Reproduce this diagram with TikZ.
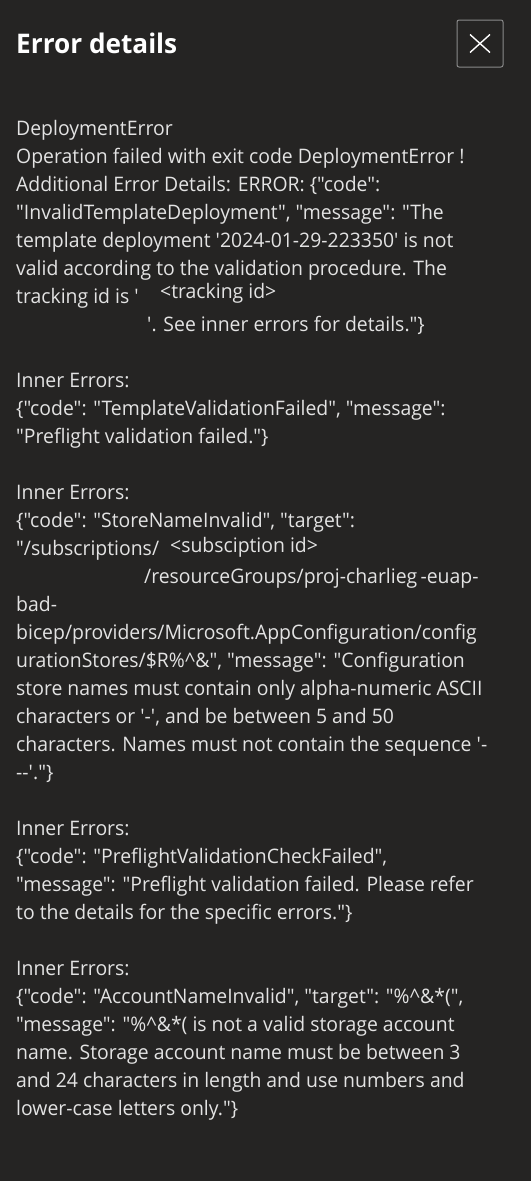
\documentclass[tikz,border=0pt]{standalone}
\usepackage{fontspec}
\setmainfont{Open Sans}[Ligatures=TeXOff,FakeStretch=0.97]
\definecolor{bg}{HTML}{252423}
\definecolor{txt}{HTML}{E3E3E3}
\definecolor{btn}{HTML}{8A8A8A}
\newcommand{\q}{\textquotesingle}
\begin{document}
\begin{tikzpicture}[x=1pt,y=-1pt,
  ln/.style={anchor=base west,inner sep=0pt,text=txt,font=\fontsize{20}{24}\selectfont},
  ttl/.style={anchor=base west,inner sep=0pt,text=white,font=\bfseries\fontsize{27}{32}\selectfont}]
\fill[bg] (0,0) rectangle (531,1181);
\useasboundingbox (0,0) rectangle (531,1181);
\node[ttl] (title) at (16,53) {Error details};
\node[draw=btn,line width=1pt,rounded corners=2pt,minimum width=46pt,minimum height=47pt,inner sep=0pt] (close) at (480,43.5) {};
\draw[white,line width=1.4pt] ([shift={(-10,-9)}]close.center) -- ([shift={(10,9)}]close.center);
\draw[white,line width=1.4pt] ([shift={(-10,9)}]close.center) -- ([shift={(10,-9)}]close.center);
\node[ln] (l0) at (16,135) {DeploymentError};
\node[ln] (l1) at (16,163) {Operation failed with exit code DeploymentError !};
\node[ln] (l2) at (16,191) {Additional Error Details: ERROR: \{"code":};
\node[ln] (l3) at (16,219) {"InvalidTemplateDeployment", "message": "The};
\node[ln] (l4) at (16,247) {template deployment \q2024-01-29-223350\q\ is not};
\node[ln] (l5) at (16,275) {valid according to the validation procedure. The};
\node[ln] (l6) at (16,303) {tracking id is \q};
\node[ln] (l6a) at (160,298) {<tracking id>};
\node[ln] (l7) at (147,331) {\q. See inner errors for details."\}};
\node[ln] (l9) at (16,387) {Inner Errors:};
\node[ln] (l10) at (16,415) {\{"code": "TemplateValidationFailed", "message":};
\node[ln] (l11) at (16,443) {"Preflight validation failed."\}};
\node[ln] (l13) at (16,499) {Inner Errors:};
\node[ln] (l14) at (16,527) {\{"code": "StoreNameInvalid", "target":};
\node[ln] (l15) at (16,555) {"/subscriptions/};
\node[ln] (l15a) at (170,552) {<subsciption id>};
\node[ln] (l16) at (144,583) {/resourceGroups/proj-charlieg\,-euap-};
\node[ln] (l17) at (16,611) {bad-};
\node[ln] (l18) at (16,639) {bicep/providers/Microsoft.AppConfiguration/config};
\node[ln] (l19) at (16,667) {urationStores/\$R\%\textasciicircum\&", "message": "Configuration};
\node[ln] (l20) at (16,695) {store names must contain only alpha-numeric ASCII};
\node[ln] (l21) at (16,723) {characters or \q-\q, and be between 5 and 50};
\node[ln] (l22) at (16,751) {characters. Names must not contain the sequence \q-};
\node[ln] (l23) at (16,779) {{-}{-}\q."\}};
\node[ln] (l25) at (16,835) {Inner Errors:};
\node[ln] (l26) at (16,863) {\{"code": "PreflightValidationCheckFailed",};
\node[ln] (l27) at (16,891) {"message": "Preflight validation failed. Please refer};
\node[ln] (l28) at (16,919) {to the details for the specific errors."\}};
\node[ln] (l30) at (16,975) {Inner Errors:};
\node[ln] (l31) at (16,1003) {\{"code": "AccountNameInvalid", "target": "\%\textasciicircum\&*(",};
\node[ln] (l32) at (16,1031) {"message": "\%\textasciicircum\&*( is not a valid storage account};
\node[ln] (l33) at (16,1059) {name. Storage account name must be between 3};
\node[ln] (l34) at (16,1087) {and 24 characters in length and use numbers and};
\node[ln] (l35) at (16,1115) {lower-case letters only."\}};
\end{tikzpicture}
\end{document}
